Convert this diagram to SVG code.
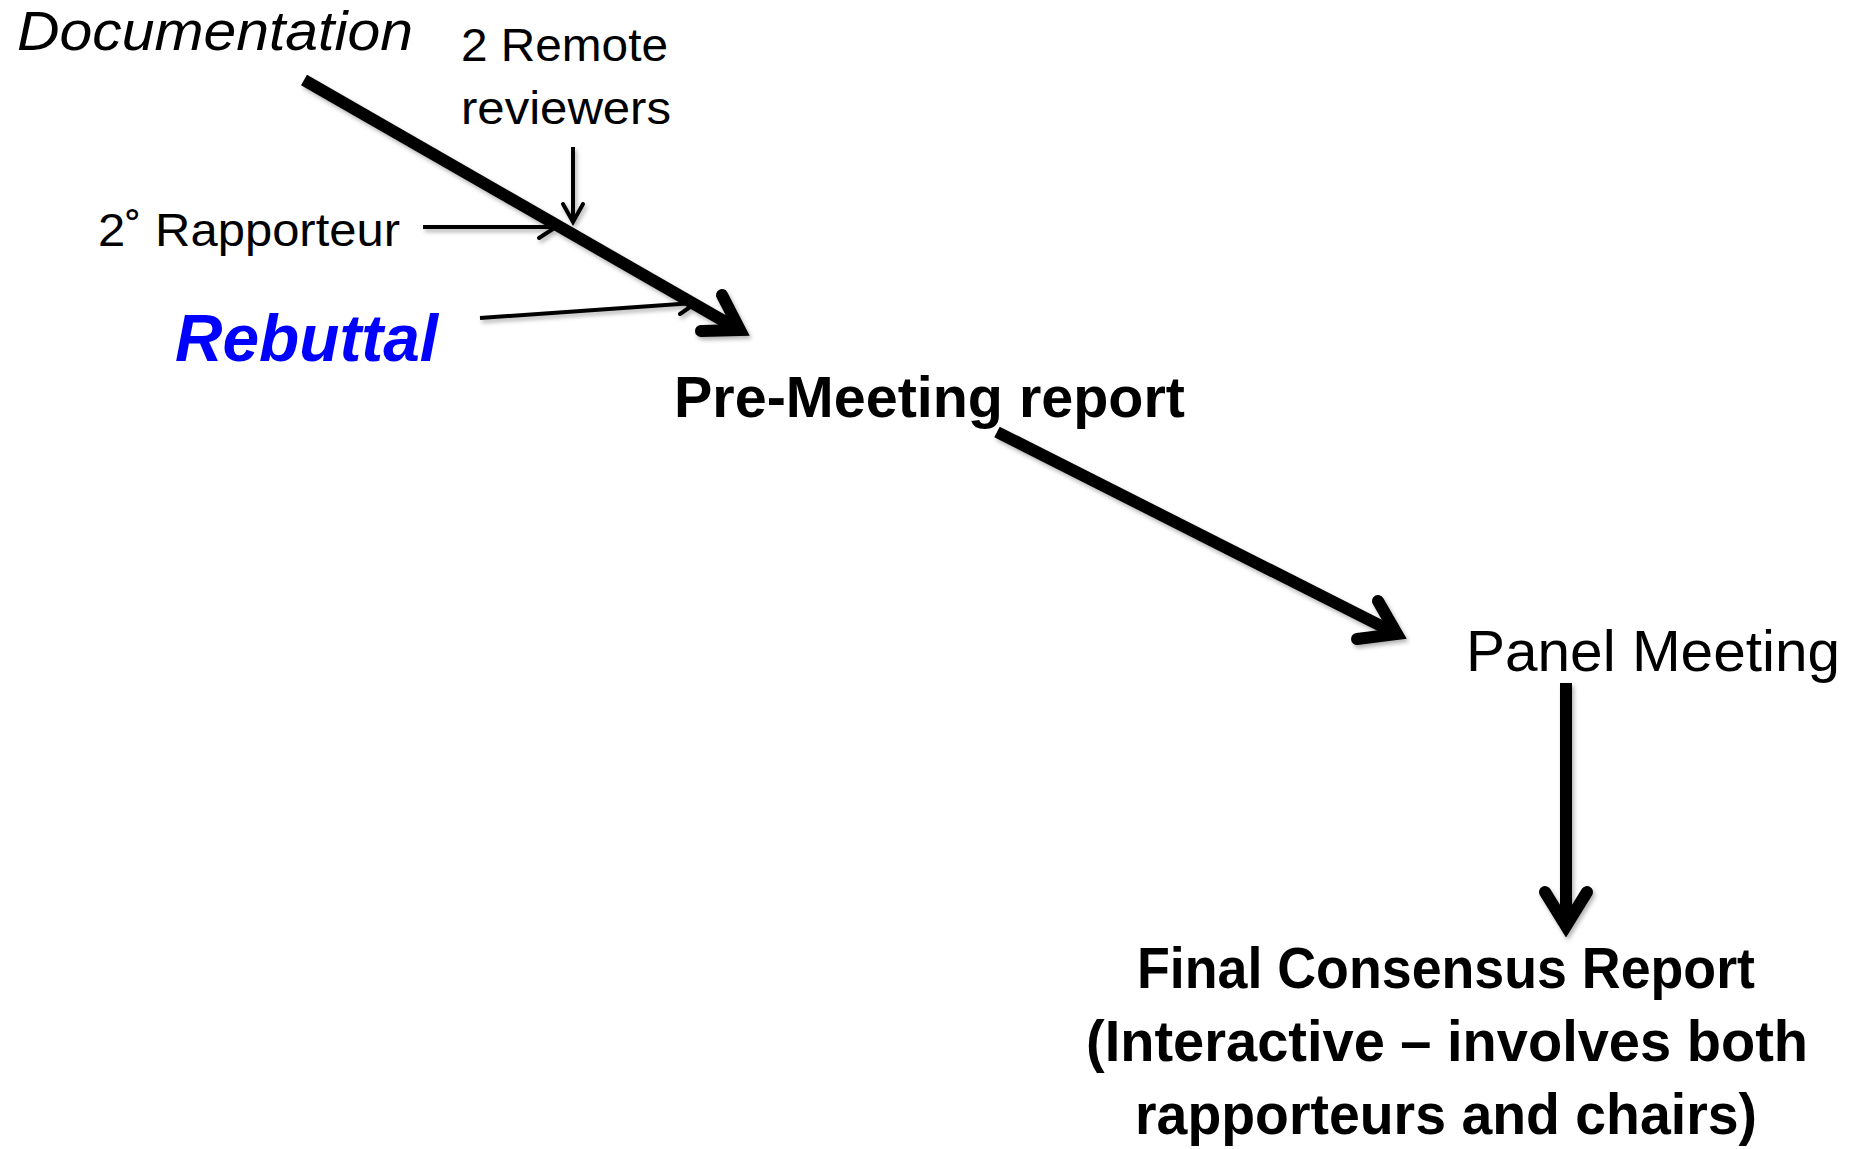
<svg xmlns="http://www.w3.org/2000/svg" width="1858" height="1149" viewBox="0 0 1858 1149">
<style>
text{font-family:"Liberation Sans",Arial,sans-serif;fill:#000}
.reg{font-weight:normal}
.bold{font-weight:bold}
.ital{font-style:italic}
.blue{fill:#0000FF}
.thick{fill:none;stroke:#000;stroke-width:12;stroke-linecap:butt}
.thickhead{fill:none;stroke:#000;stroke-width:12;stroke-linecap:round;stroke-linejoin:miter;stroke-miterlimit:10}
.thin{fill:none;stroke:#000;stroke-width:4;stroke-linecap:butt}
.thinhead{fill:none;stroke:#000;stroke-width:4;stroke-linecap:round;stroke-linejoin:miter;stroke-miterlimit:10}
</style>
<defs>
<filter id="shadow" x="-10%" y="-10%" width="130%" height="130%">
<feDropShadow dx="2" dy="3" stdDeviation="2" flood-color="#000" flood-opacity="0.3"/>
</filter>
</defs>
<rect width="1858" height="1149" fill="#fff"/>
<g id="connectors" filter="url(#shadow)">
<g id="arrow-doc-premeeting">
<line class="thick" x1="304" y1="80" x2="736" y2="328"/>
<polyline class="thickhead" points="722,295 740,330 701,331"/>
</g>
<g id="arrow-remote">
<line class="thin" x1="573" y1="147" x2="573" y2="220"/>
<polyline class="thinhead" points="563,204 573,222 583,204"/>
</g>
<g id="arrow-rapporteur">
<line class="thin" x1="423" y1="227" x2="554" y2="227"/>
<polyline class="thinhead" points="539,216 556,227 539,238"/>
</g>
<g id="arrow-rebuttal">
<line class="thin" x1="480" y1="318" x2="694" y2="303"/>
<polyline class="thinhead" points="678,293 696,303 680,314"/>
</g>
<g id="arrow-premeeting-panel">
<line class="thick" x1="997" y1="432" x2="1393" y2="632"/>
<polyline class="thickhead" points="1378,601 1397,634 1357,639"/>
</g>
<g id="arrow-panel-final">
<line class="thick" x1="1566" y1="683" x2="1566" y2="920"/>
<polyline class="thickhead" points="1545,892 1566,926 1587,892"/>
</g>
</g>
<g id="node-documentation">
<text class="reg ital" x="17" y="50" font-size="56" textLength="396" lengthAdjust="spacingAndGlyphs">Documentation</text>
</g>
<g id="node-remote">
<text class="reg" x="461" y="61" font-size="46" textLength="207" lengthAdjust="spacingAndGlyphs">2 Remote</text>
<text class="reg" x="461" y="124" font-size="46" textLength="210" lengthAdjust="spacingAndGlyphs">reviewers</text>
</g>
<g id="node-rapporteur">
<text class="reg" x="98" y="246" font-size="47" textLength="302" lengthAdjust="spacingAndGlyphs">2˚ Rapporteur</text>
</g>
<g id="node-rebuttal">
<text class="bold ital blue" x="175" y="361" font-size="66" textLength="263" lengthAdjust="spacingAndGlyphs">Rebuttal</text>
</g>
<g id="node-premeeting">
<text class="bold" x="674" y="417" font-size="58" textLength="511" lengthAdjust="spacingAndGlyphs">Pre-Meeting report</text>
</g>
<g id="node-panel">
<text class="reg" x="1466" y="671" font-size="57" textLength="374" lengthAdjust="spacingAndGlyphs">Panel Meeting</text>
</g>
<g id="node-final">
<text class="bold" x="1446" y="988" font-size="58" text-anchor="middle" textLength="618" lengthAdjust="spacingAndGlyphs">Final Consensus Report</text>
<text class="bold" x="1447" y="1061" font-size="58" text-anchor="middle" textLength="722" lengthAdjust="spacingAndGlyphs">(Interactive – involves both</text>
<text class="bold" x="1446" y="1134" font-size="58" text-anchor="middle" textLength="622" lengthAdjust="spacingAndGlyphs">rapporteurs and chairs)</text>
</g>
</svg>
